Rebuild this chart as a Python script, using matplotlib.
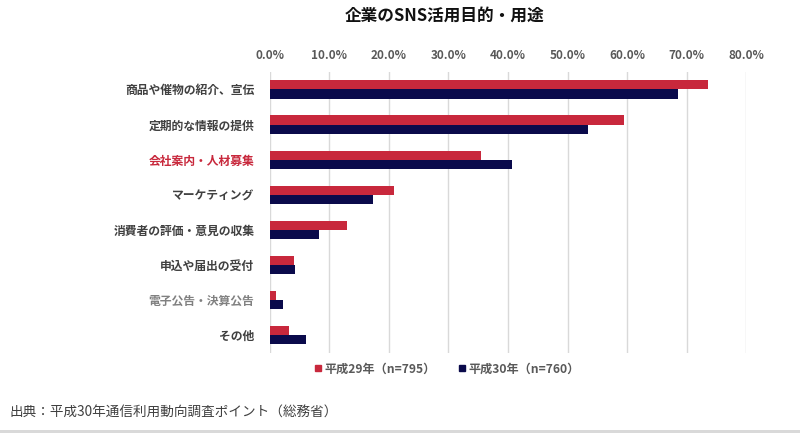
import numpy as np
import matplotlib
matplotlib.use("Agg")
import matplotlib.pyplot as plt
from matplotlib.patches import Rectangle
from matplotlib.lines import Line2D

plt.rcParams['font.family'] = ['Noto Sans CJK JP', 'DejaVu Sans']

# data (in %)
categories = ['商品や催物の紹介、宣伝', '定期的な情報の提供', '会社案内・人材募集',
              'マーケティング', '消費者の評価・意見の収集', '申込や届出の受付',
              '電子公告・決算公告', 'その他']
h29 = [73.6, 59.5, 35.5, 20.9, 13.0, 4.1, 1.0, 3.3]
h30 = [68.6, 53.5, 40.6, 17.3, 8.3, 4.2, 2.2, 6.1]
series_names = ['平成29年（n=795）', '平成30年（n=760）']
xticks = [0, 10, 20, 30, 40, 50, 60, 70, 80]

RED = '#C8283C'
NAVY = '#0A0A4B'
label_colors = {'会社案内・人材募集': RED, '電子公告・決算公告': '#808080'}

fig = plt.figure(figsize=(8, 4.33), dpi=100)
ax = fig.add_axes([0.337, 0.185, 0.596, 0.649])

y = np.arange(len(categories))
bh = 0.26
ax.barh(y - bh / 2, h29, height=bh, color=RED, zorder=3)
ax.barh(y + bh / 2, h30, height=bh, color=NAVY, zorder=3)

ax.set_xlim(0, 80)
ax.set_ylim(len(categories) - 0.5, -0.5)
ax.set_xticks(xticks)
ax.set_xticklabels([f'{v:.1f}%' for v in xticks], fontsize=8.5,
                   color='#595959', fontweight='bold')
ax.xaxis.tick_top()
ax.tick_params(axis='x', length=0, pad=7)
ax.grid(axis='x', color='#D9D9D9', linewidth=1, zorder=0)

ax.set_yticks(y)
ax.set_yticklabels(categories, fontsize=8.5, fontweight='bold')
for t in ax.get_yticklabels():
    t.set_color(label_colors.get(t.get_text(), '#404040'))
ax.tick_params(axis='y', length=0, pad=11)

for s in ax.spines.values():
    s.set_visible(False)

fig.text(0.556, 0.963, '企業のSNS活用目的・用途', ha='center', va='center',
         fontsize=12, fontweight='bold', color='#111111')

handles = [Line2D([], [], marker='s', linestyle='none', markersize=5, color=RED),
           Line2D([], [], marker='s', linestyle='none', markersize=5, color=NAVY)]
leg = fig.legend(handles, series_names, loc='center', bbox_to_anchor=(0.558, 0.148),
                 ncol=2, frameon=False, fontsize=8.7, handletextpad=0.1,
                 columnspacing=1.8, handlelength=0.8)
for t in leg.get_texts():
    t.set_color('#595959')
    t.set_fontweight('bold')

fig.text(0.012, 0.046, '出典：平成30年通信利用動向調査ポイント（総務省）', ha='left',
         va='center', fontsize=9.8, color='#404040')

# bottom gray band
fig.add_artist(Rectangle((0, 0), 1, 0.007, transform=fig.transFigure,
                         color='#D9D9D9', lw=0))

fig.savefig('out.png', dpi=100)
